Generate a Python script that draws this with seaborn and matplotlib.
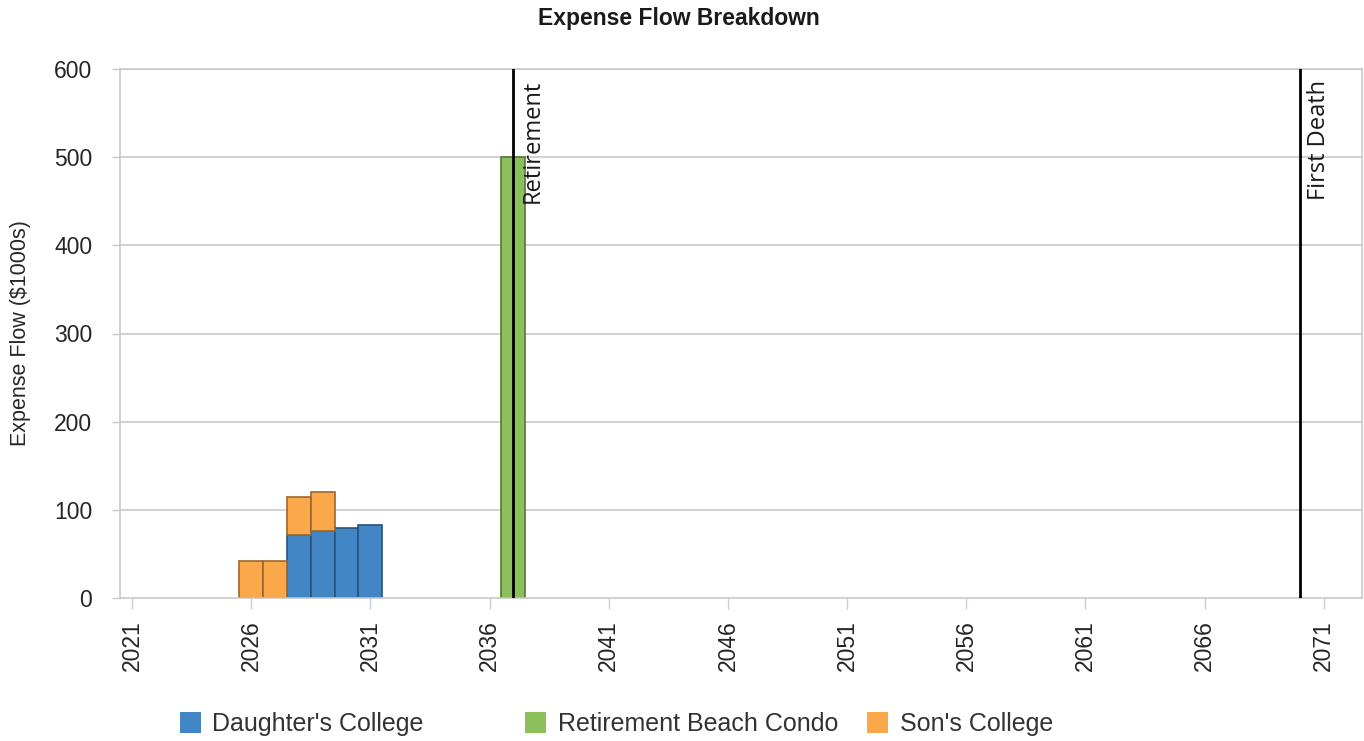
import matplotlib
matplotlib.use("Agg")
import matplotlib.pyplot as plt
from matplotlib.patches import Patch
import pandas as pd
import seaborn as sns

# Expense goals, amounts in $1000s per year
daughter_years = [2028, 2029, 2030, 2031]
daughter_vals = [72, 76, 79, 83]
son_years = [2026, 2027, 2028, 2029]
son_vals = [42, 42, 42, 44]
condo_years = [2037]
condo_vals = [500]

goal_names = ["Daughter's College", "Retirement Beach Condo", "Son's College"]
goal_colors = ["#4286C6", "#8CC05C", "#FAA84A"]

event_years = [2037, 2070]
event_labels = ["Retirement", "First Death"]

tick_years = list(range(2021, 2072, 5))
y_ticks = [0, 100, 200, 300, 400, 500, 600]

sns.set_theme(style="white")
plt.rcParams["font.family"] = ["Liberation Sans", "DejaVu Sans"]

frames = [
    pd.DataFrame({"year": daughter_years, "amount": daughter_vals, "goal": goal_names[0]}),
    pd.DataFrame({"year": condo_years, "amount": condo_vals, "goal": goal_names[1]}),
    pd.DataFrame({"year": son_years, "amount": son_vals, "goal": goal_names[2]}),
]
df = pd.concat(frames, ignore_index=True)
palette = dict(zip(goal_names, goal_colors))

fig = plt.figure(figsize=(13.64, 7.41), dpi=100)
ax = fig.add_axes([120 / 1364, 1 - 598 / 741, 1242 / 1364, 529 / 741])

sns.histplot(
    data=df, x="year", weights="amount", hue="goal",
    hue_order=[goal_names[2], goal_names[1], goal_names[0]],
    multiple="stack", discrete=True, shrink=1.0,
    palette=palette, alpha=1.0, legend=False, ax=ax,
)

# darker outline in each bar's own hue; hide empty bins
for p in ax.patches:
    if p.get_height() <= 0:
        p.set_linewidth(0)
        continue
    r, g, b, _ = p.get_facecolor()
    p.set_edgecolor((r * 0.62, g * 0.62, b * 0.62, 1.0))
    p.set_linewidth(1.2)

ax.set_xlim(2020.5, 2072.6)
ax.set_ylim(0, 600)
ax.set_yticks(y_ticks)
ax.set_xticks(tick_years)
ax.set_xticklabels([str(t) for t in tick_years], rotation=90)

grid_c = "#C9C9C9"
for v in y_ticks[1:]:
    ax.axhline(v, color=grid_c, lw=1.2, zorder=0)
for s in ax.spines.values():
    s.set_color(grid_c)
    s.set_linewidth(1.2)

ax.tick_params(axis="y", length=6, width=1.0, color=grid_c, pad=14,
               labelsize=16.5, labelcolor="#262626", left=True)
ax.tick_params(axis="x", length=8, width=1.0, color="#C5CFDD", pad=8,
               labelsize=16.5, labelcolor="#262626", bottom=True)

ax.set_xlabel("")
ax.set_ylabel("Expense Flow ($1000s)", fontsize=15.5, color="#262626")
ax.yaxis.set_label_coords(-0.072, 0.5)

# event markers
for yr, lab in zip(event_years, event_labels):
    ax.axvline(yr, color="black", lw=2.0, zorder=5)
    ax.annotate(lab, xy=(yr, 600), xytext=(5, -8), textcoords="offset points",
                rotation=90, ha="left", va="top", fontsize=17,
                family=["Open Sans", "DejaVu Sans"], color="#1a1a1a", zorder=6)

fig.text(0.498, 1 - 19 / 741, "Expense Flow Breakdown", ha="center", va="center",
         fontsize=16.5, fontweight="bold", color="#1a1a1a",
         family=["Liberation Sans Narrow", "Liberation Sans", "DejaVu Sans"])

# legend entries laid out in fixed slots
legend_x = [180, 525, 867]
for name, col, lx in zip(goal_names, goal_colors, legend_x):
    leg = fig.legend(handles=[Patch(facecolor=col, edgecolor="none")], labels=[name],
                     loc="center left", bbox_to_anchor=(lx / 1364, 1 - 724 / 741),
                     frameon=False, fontsize=18, handlelength=0.85, handleheight=0.95,
                     handletextpad=0.45, borderpad=0, borderaxespad=0)
    for t in leg.get_texts():
        t.set_color("#333333")

fig.savefig("out.png", dpi=100)
